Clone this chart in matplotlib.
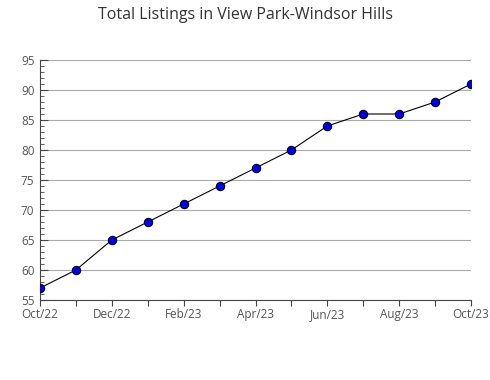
import matplotlib
matplotlib.use("Agg")
import matplotlib.pyplot as plt
from matplotlib.ticker import MultipleLocator

plt.rcParams['font.family'] = ['Open Sans', 'DejaVu Sans']

months = ["Oct/22", "Nov/22", "Dec/22", "Jan/23", "Feb/23", "Mar/23", "Apr/23",
          "May/23", "Jun/23", "Jul/23", "Aug/23", "Sep/23", "Oct/23"]
listings = [57, 60, 65, 68, 71, 74, 77, 80, 84, 86, 86, 88, 91]
tick_labels = ["Oct/22", "", "Dec/22", "", "Feb/23", "", "Apr/23", "",
               "Jun/23", "", "Aug/23", "", "Oct/23"]

fig = plt.figure(figsize=(4.9, 3.8), dpi=100)
ax = fig.add_axes([40/490, 80/380, 431/490, 240/380])
x = list(range(len(months)))
ax.plot(x, listings, color='black', lw=0.8, marker='o', markersize=6,
        markerfacecolor='#0000ee', markeredgecolor='black', markeredgewidth=0.8, zorder=3)
ax.set_xlim(0, len(months) - 1)
ax.set_ylim(55, 95)
ax.set_xticks(x)
ax.set_xticklabels(tick_labels)
ax.yaxis.set_major_locator(MultipleLocator(5))
ax.yaxis.set_minor_locator(MultipleLocator(1))
ax.grid(axis='y', which='major', color='#aaaaaa', lw=0.8)
ax.set_axisbelow(True)
for s in ['top', 'right']:
    ax.spines[s].set_visible(False)
for s in ['left', 'bottom']:
    ax.spines[s].set_color('#444444')
    ax.spines[s].set_linewidth(0.8)
ax.tick_params(axis='y', which='major', direction='in', length=6, color='#444444',
               labelsize=8.5, labelcolor='#555555', pad=4)
ax.tick_params(axis='y', which='minor', direction='in', length=3, color='#444444')
ax.tick_params(axis='x', direction='out', length=4, color='#444444',
               labelsize=8.5, labelcolor='#555555', pad=2)
fig.text(0.5, 1 - 15/380, "Total Listings in View Park-Windsor Hills", ha='center', va='center',
         fontsize=11.5, color='#333333')
fig.savefig("out.png", dpi=100)
